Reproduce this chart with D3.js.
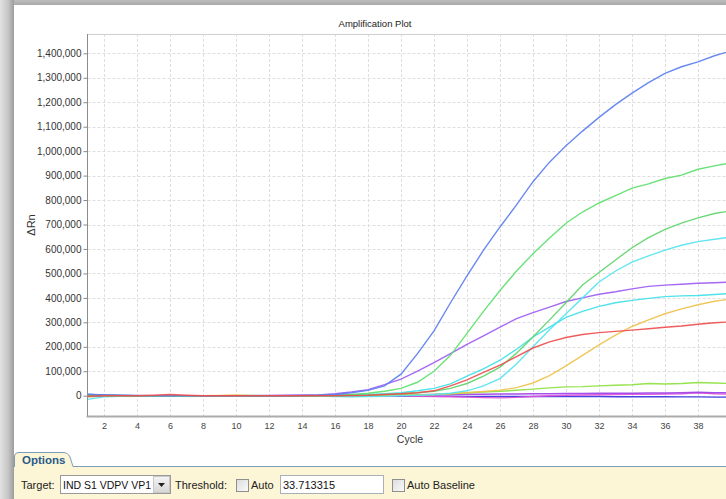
<!DOCTYPE html>
<html><head><meta charset="utf-8">
<script src="https://cdn.jsdelivr.net/npm/d3@7"></script>
<style>
html,body{margin:0;padding:0;overflow:hidden;background:#fff;}
svg{display:block;font-family:"Liberation Sans",Arial,sans-serif;}
</style></head><body>
<svg id="c" width="726" height="499"></svg>
<script>
// ---------- DATA ----------
const cycles = d3.range(1, 41);
const xGridValues = [2,4,6,8,10,12,14,16,18,20,22,24,26,28,30,32,34,36,38,40];
const xTickLabels = [2,4,6,8,10,12,14,16,18,20,22,24,26,28,30,32,34,36,38];
const yTickValues = [0,100000,200000,300000,400000,500000,600000,700000,800000,900000,1000000,1100000,1200000,1300000,1400000];
const title = "Amplification Plot";
const xLabel = "Cycle";
const yLabel = "ΔRn";

const blue = [6000,3000,2000,1000,0,0,0,0,0,0,0,0,0,1000,2000,5000,12000,22000,40000,88000,172000,265000,380000,490000,595000,690000,780000,875000,955000,1022000,1082000,1138000,1190000,1237000,1280000,1318000,1345000,1365000,1390000,1410000];
const green1 = [3000,2000,1000,0,0,0,0,0,0,0,0,0,0,0,1000,2000,5000,10000,18000,30000,55000,100000,165000,255000,345000,430000,510000,580000,645000,705000,751000,788000,818000,849000,866000,888000,902000,926000,940000,952000];
const green2 = [0,0,0,0,0,0,0,0,0,0,0,0,0,0,0,0,1000,2000,5000,8000,12000,18000,30000,50000,80000,117000,174000,240000,310000,380000,453000,504000,555000,605000,646000,680000,706000,727000,745000,756000];
const cyanSharp = [-15000,-5000,-2000,0,0,0,0,0,0,0,0,0,0,0,-1000,-3000,-4000,-3000,-2000,0,2000,5000,10000,20000,40000,70000,130000,200000,270000,335000,400000,465000,510000,546000,572000,595000,615000,630000,640000,648000];
const purple = [0,0,0,0,0,0,0,0,0,0,0,0,0,1000,3000,8000,15000,25000,45000,68000,100000,135000,172000,210000,245000,280000,315000,340000,362000,385000,400000,415000,425000,437000,447000,452000,456000,460000,462000,465000];
const cyanLower = [-3000,-1000,0,0,0,0,0,0,0,0,1000,0,0,0,0,0,2000,5000,8000,12000,20000,30000,48000,80000,110000,145000,190000,240000,280000,320000,345000,365000,380000,390000,398000,405000,408000,410000,414000,418000];
const red = [-2000,0,0,0,2000,5000,2000,0,0,0,0,0,0,0,0,0,1000,2000,5000,8000,12000,20000,40000,65000,95000,125000,160000,195000,220000,238000,250000,258000,263000,268000,274000,280000,285000,292000,298000,302000];
const orange = [-5000,-2000,0,0,0,0,0,0,1000,3000,1000,0,0,0,0,0,0,1000,1000,2000,3000,5000,8000,12000,17000,23000,33000,52000,82000,122000,165000,208000,248000,283000,310000,335000,355000,372000,386000,396000];
const lightGreen = [0,0,0,0,0,0,0,0,0,0,0,0,0,0,0,0,0,1000,2000,3000,4000,5000,8000,12000,15000,18000,22000,27000,32000,36000,37000,40000,43000,45000,50000,48000,50000,54000,52000,50000];
const violet = [2000,1000,0,0,0,0,0,0,0,0,0,1000,2000,2000,2000,2000,3000,3000,3000,3000,4000,5000,5000,6000,6000,7000,7000,8000,8000,9000,9000,10000,10000,10000,11000,11000,12000,14000,12000,12000];
const magenta = [0,0,0,0,0,0,0,0,0,0,0,0,0,0,0,0,0,0,0,0,-2000,-3000,-4000,-6000,-8000,-9000,-7000,-3000,0,2000,3000,4000,5000,6000,6000,7000,8000,12000,8000,6000];
const darkBlue = [5000,3000,1000,0,0,0,0,0,0,0,0,0,0,0,0,0,0,0,-1000,-2000,-2000,-2000,-2000,-3000,-3000,-3000,-3000,-3000,-3000,-3000,-3000,-3000,-4000,-4000,-4000,-4000,-5000,-5000,-6000,-6000];

const seriesList = [
  {name:"darkBlue", values:darkBlue, color:"#3535e0"},
  {name:"magenta", values:magenta, color:"#e050d8"},
  {name:"violet", values:violet, color:"#a040e8"},
  {name:"lightGreen", values:lightGreen, color:"#8ee040"},
  {name:"orange", values:orange, color:"#efc24f"},
  {name:"cyanLower", values:cyanLower, color:"#3fe0e8"},
  {name:"purple", values:purple, color:"#9d5cf2"},
  {name:"cyanSharp", values:cyanSharp, color:"#56e3ef"},
  {name:"green2", values:green2, color:"#5fd46c"},
  {name:"green1", values:green1, color:"#5de06e"},
  {name:"blue", values:blue, color:"#5b7ff0"},
  {name:"red", values:red, color:"#ef4d4d"}
];

// ---------- LAYOUT ----------
const svg = d3.select("#c");
const W = 726, H = 499;
const plot = {left:87.5, right:731, top:34, bottom:416};

const defs = svg.append("defs");
const gl = defs.append("linearGradient").attr("id","leftShade").attr("x1","0").attr("x2","1").attr("y1","0").attr("y2","0");
gl.append("stop").attr("offset","0").attr("stop-color","#e2e2e2");
gl.append("stop").attr("offset","0.6").attr("stop-color","#c4c4c4");
gl.append("stop").attr("offset","1").attr("stop-color","#9c9c9c");
const gt = defs.append("linearGradient").attr("id","topShade").attr("x1","0").attr("x2","0").attr("y1","0").attr("y2","1");
gt.append("stop").attr("offset","0").attr("stop-color","#bdbdbd");
gt.append("stop").attr("offset","1").attr("stop-color","#a9a9a9");
const gb = defs.append("linearGradient").attr("id","btnShade").attr("x1","0").attr("x2","0").attr("y1","0").attr("y2","1");
gb.append("stop").attr("offset","0").attr("stop-color","#f4f4f4");
gb.append("stop").attr("offset","1").attr("stop-color","#d6d6d6");
const gc = defs.append("linearGradient").attr("id","chkShade").attr("x1","0").attr("x2","1").attr("y1","0").attr("y2","1");
gc.append("stop").attr("offset","0").attr("stop-color","#dcdcdc");
gc.append("stop").attr("offset","1").attr("stop-color","#fbfbfb");
defs.append("clipPath").attr("id","plotClip").append("rect")
  .attr("x",plot.left).attr("y",plot.top).attr("width",plot.right-plot.left).attr("height",plot.bottom-plot.top);

// window chrome
svg.append("rect").attr("x",0).attr("y",0).attr("width",W).attr("height",H).attr("fill","#ffffff");
svg.append("rect").attr("x",0).attr("y",0).attr("width",W).attr("height",5).attr("fill","url(#topShade)");
svg.append("rect").attr("x",0).attr("y",0).attr("width",14).attr("height",H).attr("fill","url(#leftShade)");

// ---------- SCALES ----------
const x = d3.scaleLinear().domain([1,40]).range([plot.left, plot.right]);
const y = d3.scaleLinear().domain([-83000,1479000]).range([plot.bottom, plot.top]);

// grid
const grid = svg.append("g");
grid.selectAll(".vg").data(xGridValues).join("line")
  .attr("x1",d=>Math.round(x(d))+0.5).attr("x2",d=>Math.round(x(d))+0.5)
  .attr("y1",plot.top).attr("y2",plot.bottom)
  .attr("stroke","#dedede").attr("stroke-dasharray","3,2");
grid.selectAll(".hg").data(yTickValues).join("line")
  .attr("x1",plot.left).attr("x2",plot.right)
  .attr("y1",d=>Math.round(y(d))+0.5).attr("y2",d=>Math.round(y(d))+0.5)
  .attr("stroke","#dedede").attr("stroke-dasharray","3,2");
// top border
svg.append("line").attr("x1",plot.left).attr("x2",plot.right).attr("y1",plot.top+0.5).attr("y2",plot.top+0.5)
  .attr("stroke","#cfcfcf");

// lines
const line = d3.line().x((d,i)=>x(cycles[i])).y(d=>y(d)).curve(d3.curveLinear);
const lg = svg.append("g").attr("clip-path","url(#plotClip)");
lg.selectAll("path").data(seriesList).join("path")
  .attr("d",d=>line(d.values)).attr("fill","none")
  .attr("stroke",d=>d.color).attr("stroke-width",1.4).attr("stroke-opacity",0.92);

// axes
const yAxis = d3.axisLeft(y).tickValues(yTickValues).tickSize(4).tickPadding(2)
  .tickFormat(d3.format(","));
const yg = svg.append("g").attr("transform",`translate(${plot.left},0)`).call(yAxis);
yg.select(".domain").remove();
yg.selectAll(".tick line").attr("stroke","#888");
yg.selectAll(".tick text").attr("font-size",10).attr("fill","#333").attr("font-family","Liberation Sans, Arial, sans-serif");
svg.append("line").attr("x1",plot.left).attr("x2",plot.left).attr("y1",plot.top).attr("y2",plot.bottom)
  .attr("stroke","#8c8c8c").attr("stroke-width",1);

const xAxis = d3.axisBottom(x).tickValues(xTickLabels).tickSize(0).tickPadding(7).tickFormat(d3.format("d"));
const xg = svg.append("g").attr("transform",`translate(0,${plot.bottom})`).call(xAxis);
xg.select(".domain").remove();
xg.selectAll(".tick text").attr("font-size",9).attr("fill","#444").attr("font-family","Liberation Sans, Arial, sans-serif");
svg.append("line").attr("x1",plot.left-1).attr("x2",plot.right).attr("y1",plot.bottom+0.5).attr("y2",plot.bottom+0.5)
  .attr("stroke","#ababab").attr("stroke-width",2);

// titles
svg.append("text").attr("x",375).attr("y",27).attr("text-anchor","middle")
  .attr("font-size",9.5).attr("fill","#222").text(title);
svg.append("text").attr("x",410).attr("y",443).attr("text-anchor","middle")
  .attr("font-size",10.5).attr("fill","#333").text(xLabel);
svg.append("text").attr("transform","translate(34.5,225) rotate(-90)").attr("text-anchor","middle")
  .attr("font-size",11).attr("fill","#333").text(yLabel);

// ---------- OPTIONS PANEL ----------
const op = svg.append("g");
op.append("rect").attr("x",14).attr("y",466).attr("width",W-14).attr("height",H-466).attr("fill","#fcf5d6");
op.append("path").attr("d","M14.5,467 V457 Q14.5,452.5 19,452.5 H63 Q68,452.5 70,457 L73,466.5 H726")
  .attr("fill","#fcf5d6").attr("stroke","#7d9cba").attr("stroke-width",1);
op.append("text").attr("x",22).attr("y",463.5).attr("font-size",11.5).attr("font-weight","bold")
  .attr("fill","#2a5b8c").text("Options");

const fs = 11;
op.append("text").attr("x",21).attr("y",489).attr("font-size",fs).attr("fill","#222").text("Target:");
op.append("rect").attr("x",60.5).attr("y",475.5).attr("width",110).attr("height",18).attr("fill","#fff").attr("stroke","#9a9a9a");
op.append("rect").attr("x",153.5).attr("y",476.5).attr("width",16).attr("height",16).attr("fill","url(#btnShade)").attr("stroke","#c8c8c8");
op.append("path").attr("d","M158,483 H165 L161.5,487 Z").attr("fill","#222");
op.append("text").attr("x",63).attr("y",489).attr("font-size",10.5).attr("fill","#111").text("IND S1 VDPV VP1");
op.append("text").attr("x",175).attr("y",489).attr("font-size",fs).attr("fill","#222").text("Threshold:");
op.append("rect").attr("x",236.5).attr("y",479.5).attr("width",12).attr("height",12).attr("fill","url(#chkShade)").attr("stroke","#8e8f8f");
op.append("text").attr("x",251).attr("y",489).attr("font-size",fs).attr("fill","#222").text("Auto");
op.append("rect").attr("x",280.5).attr("y",475.5).attr("width",103).attr("height",18).attr("fill","#fff").attr("stroke","#a9b0b8");
op.append("text").attr("x",283).attr("y",489).attr("font-size",fs).attr("fill","#111").text("33.713315");
op.append("rect").attr("x",392.5).attr("y",479.5).attr("width",12).attr("height",12).attr("fill","url(#chkShade)").attr("stroke","#8e8f8f");
op.append("text").attr("x",407).attr("y",489).attr("font-size",fs).attr("fill","#222").text("Auto Baseline");
</script>
</body></html>
